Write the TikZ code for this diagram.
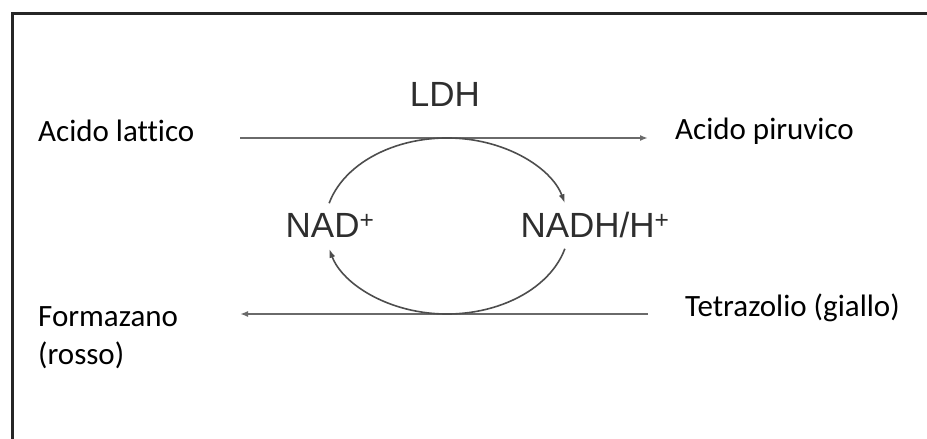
\documentclass[tikz,border=0pt]{standalone}
\usepackage{fontspec}
\setmainfont[Ligatures=NoCommon]{Carlito}
\newfontfamily\enzfont{Liberation Sans}
\usetikzlibrary{arrows.meta}
\definecolor{linegray}{HTML}{6A6A6A}
\definecolor{textgray}{HTML}{2E2E2E}
\tikzset{
  species/.style={anchor=base west,inner sep=0pt,font=\fontsize{31}{38}\selectfont},
  cofactor/.style={inner sep=0pt,text=textgray,font=\enzfont\fontsize{35}{38}\selectfont},
  reaction/.style={linegray,line width=2pt,-{Latex[length=8pt,width=6pt]}},
  cycle/.style={textgray!85,line width=1.6pt,-{Latex[length=9pt,width=6pt]}}
}
\begin{document}
\begin{tikzpicture}[x=1pt,y=1pt]
      \useasboundingbox (0,0) rectangle (927,439);
      % frame
      \draw[black!85,line width=3pt] (12,0) -- (12,425) -- (927,425);
      % species
      \node[species] (lattico) at (38,297) {Acido lattico};
      \node[species] (piruvico) at (675,299) {Acido piruvico};
      \node[species] (formazano) at (38,112) {Formazano};
      \node[species] (rosso) at (38,74) {(rosso)};
      \node[species] (tetrazolio) at (685,122) {Tetrazolio (giallo)};
      % enzyme and cofactors
      \node[cofactor] (ldh) at (445,345) {LDH};
      \node[cofactor] (nad) at (330,214) {NAD\textsuperscript{+}};
      \node[cofactor] (nadh) at (595,214) {NADH/H\textsuperscript{+}};
      \coordinate (cyc) at (447,213);
      \coordinate (topin) at (240,301);
      \coordinate (topout) at (648,301);
      \coordinate (botin) at (648,125);
      \coordinate (botout) at (240,125);
      \draw[reaction] (topin) -- (topout);
      \draw[reaction] (botin) -- (botout);
      \draw[cycle] (cyc) ++(165:122 and 88) arc[start angle=165,end angle=15,x radius=122,y radius=88];
      \draw[cycle] (cyc) ++(-15:122 and 88) arc[start angle=-15,end angle=-165,x radius=122,y radius=88];
\end{tikzpicture}
\end{document}
